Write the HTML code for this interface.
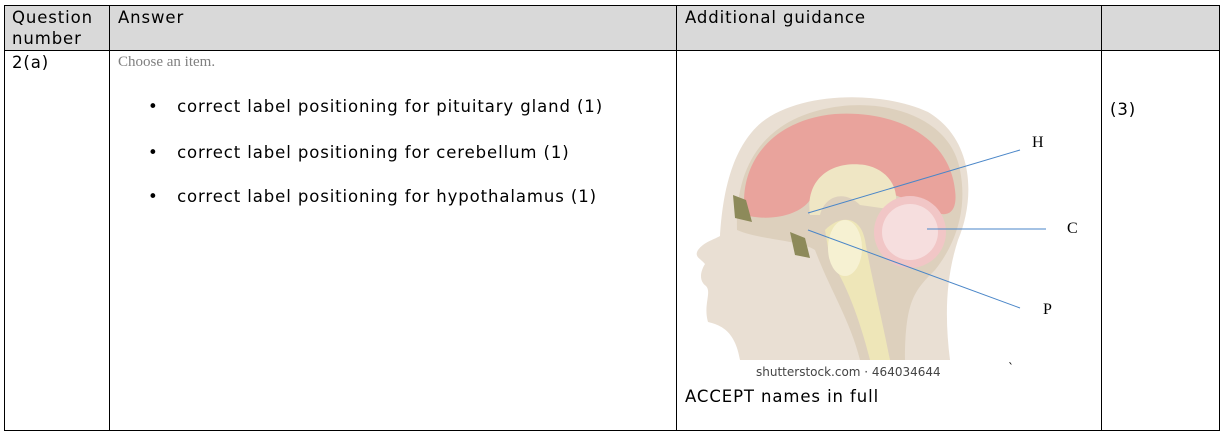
<!DOCTYPE html>
<html><head><meta charset="utf-8"><style>
body{margin:0;width:1227px;height:440px;background:#fff;position:relative;overflow:hidden;font-family:"DejaVu Sans","Liberation Sans",sans-serif;color:#000}
.a{position:absolute}
.t{font-size:16.5px;line-height:21px;letter-spacing:0.9px;white-space:nowrap}
</style></head><body>
<div class="a" style="left:4px;top:5px;width:1215px;height:45px;background:#d9d9d9"></div>
<svg class="a" style="left:0;top:0" width="1227" height="440">
<g stroke="#000" stroke-width="1" fill="none">
<rect x="4.5" y="5.5" width="1215" height="425"/>
<line x1="4" y1="50.5" x2="1220" y2="50.5"/>
<line x1="109.5" y1="5" x2="109.5" y2="431"/>
<line x1="676.5" y1="5" x2="676.5" y2="431"/>
<line x1="1101.5" y1="5" x2="1101.5" y2="431"/>
</g>
<path d="M740 360 C735 330 720 325 708 322 C703 305 712 292 706 286 C699 281 700 272 705 264 C700 258 694 257 698 250 C704 242 713 240 720 236 C722 205 728 150 762 122 C800 92 880 90 928 112 C975 140 975 200 958 240 C945 280 945 320 950 360 Z" fill="#e9dfd3"/>
<path d="M737 230 C735 170 760 125 820 110 C880 95 950 115 960 170 C968 210 955 245 935 270 C915 290 905 300 905 360 L860 360 C850 320 830 290 815 250 C800 240 760 240 737 230 Z" fill="#ddd0bd"/>
<path d="M745 215 C738 165 770 120 835 114 C900 110 950 140 955 190 C958 212 948 218 935 212 C920 202 880 192 860 180 C840 170 820 175 810 200 C800 215 770 222 745 215 Z" fill="#e9a39c"/>
<path d="M810 215 C805 180 830 160 865 165 C890 170 900 190 895 210 L860 205 C845 190 825 195 820 215 Z" fill="#efe6c4"/>
<path d="M825 230 C840 215 860 215 865 240 C870 270 880 310 890 360 L870 360 C860 320 845 280 830 260 Z" fill="#eee6b8"/>
<ellipse cx="845" cy="248" rx="17" ry="28" fill="#f6f1d2"/>
<circle cx="910" cy="232" r="36" fill="#f1c6c6"/>
<circle cx="910" cy="232" r="28" fill="#f6dede"/>
<path d="M733 195 L746 200 L752 222 L735 218 Z M790 232 L805 238 L810 258 L795 255 Z" fill="#8d8a5a"/>
<g stroke="#4a86c8" stroke-width="1" fill="none">
<line x1="1020" y1="150" x2="808" y2="213"/>
<line x1="927" y1="229" x2="1046" y2="229"/>
<line x1="808" y1="230" x2="1020" y2="308"/>
</g>
<g font-family="Liberation Serif,serif" font-size="16" fill="#000">
<text x="1032" y="147">H</text>
<text x="1067" y="233">C</text>
<text x="1043" y="314">P</text>
</g>
<text x="756" y="376" font-family="DejaVu Sans,sans-serif" font-size="12" fill="#444">shutterstock.com · 464034644</text>
<text x="1008" y="372" font-size="12">`</text>
</svg>
<div class="a t" style="left:12px;top:7px">Question<br>number</div>
<div class="a t" style="left:118px;top:7px">Answer</div>
<div class="a t" style="left:685px;top:7px">Additional guidance</div>
<div class="a t" style="left:12px;top:52px">2(a)</div>
<div class="a" style="left:118px;top:54px;font-family:'Liberation Serif',serif;font-size:15px;color:#808080">Choose an item.</div>
<div class="a t" style="left:148px;top:96px">•&nbsp;&nbsp;&nbsp;correct label positioning for pituitary gland (1)</div>
<div class="a t" style="left:148px;top:142px">•&nbsp;&nbsp;&nbsp;correct label positioning for cerebellum (1)</div>
<div class="a t" style="left:148px;top:186px">•&nbsp;&nbsp;&nbsp;correct label positioning for hypothalamus (1)</div>
<div class="a t" style="left:1110px;top:99px">(3)</div>
<div class="a t" style="left:685px;top:386px">ACCEPT names in full</div>
</body></html>
